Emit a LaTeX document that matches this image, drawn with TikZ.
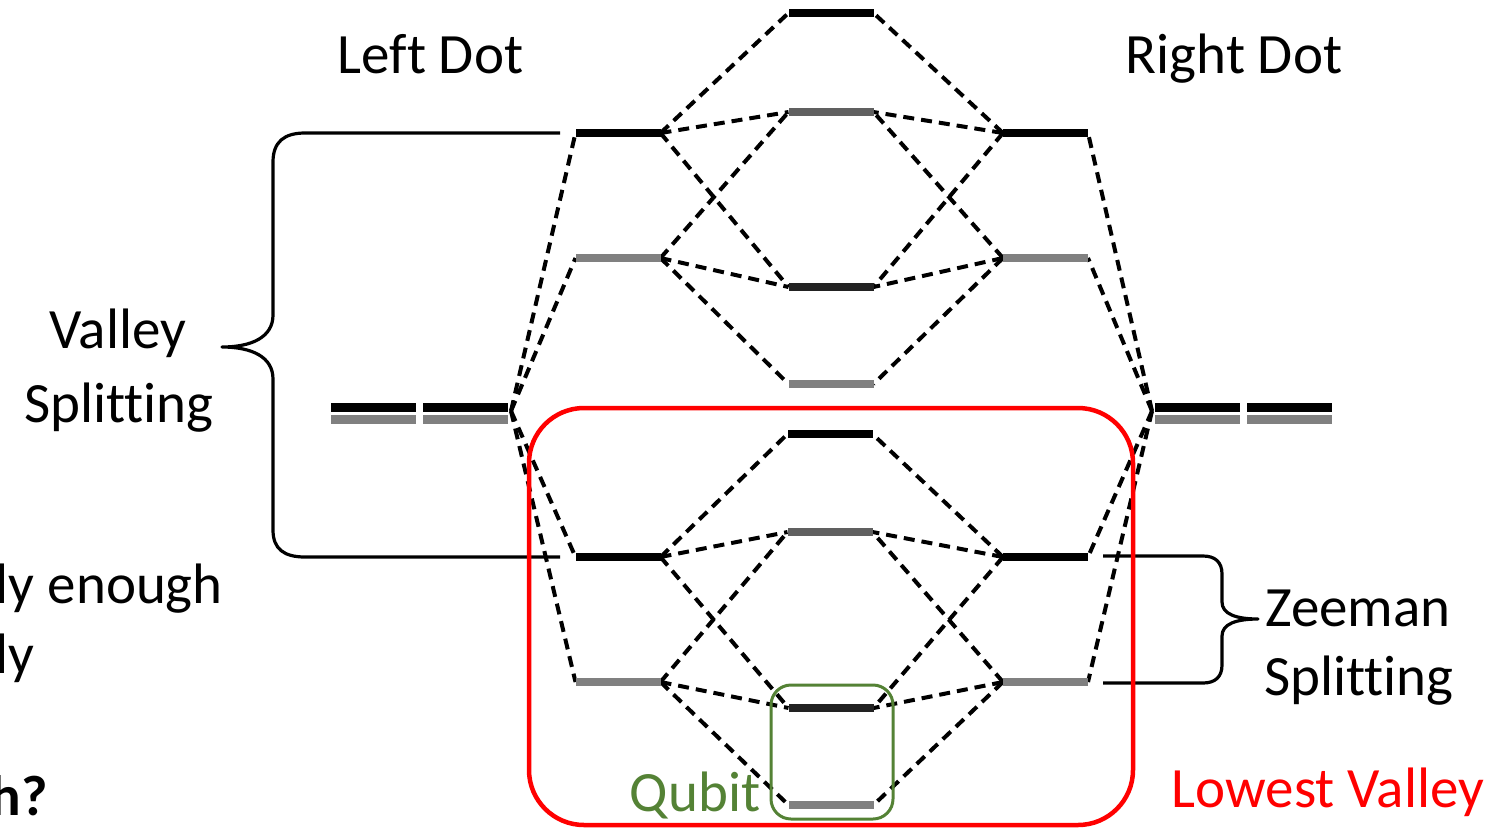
\documentclass[tikz,border=0pt]{standalone}
\usepackage{fontspec}
\setmainfont{Carlito}[Ligatures=NoCommon]
\usetikzlibrary{backgrounds}
\definecolor{qgreen}{RGB}{84,130,53}
\definecolor{lgray}{RGB}{128,128,128}
\definecolor{mgray}{RGB}{96,96,96}
\definecolor{dblack}{RGB}{34,34,34}
\begin{document}
\begin{tikzpicture}[x=1pt,y=-1pt,
  lev/.style={minimum width=85pt, minimum height=7.5pt, inner sep=0pt, outer sep=0pt},
  blk/.style={lev, fill=black},
  gry/.style={lev, fill=lgray},
  mgr/.style={lev, fill=mgray},
  dbk/.style={lev, fill=dblack},
  wide/.style={minimum height=8.5pt},
  conn/.style={line width=4pt, dash pattern=on 11pt off 7pt},
  bracepath/.style={line width=3.2pt, line join=round},
  lbl/.style={font=\fontsize{57}{68}\selectfont, inner sep=0pt, anchor=base}]
\useasboundingbox (0,0) rectangle (1493,828);
\clip (0,0) rectangle (1493,828);
% levels
\node[blk] (L1) at (618,133) {};
\node[gry] (L2) at (618,258) {};
\node[blk] (L3) at (618,557) {};
\node[gry] (L4) at (618,682) {};
\node[blk] (R1) at (1045.5,133) {};
\node[gry] (R2) at (1045.5,258) {};
\node[blk] (R3) at (1045.5,557) {};
\node[gry] (R4) at (1045.5,682) {};
\node[blk] (C1) at (831,13) {};
\node[mgr] (C2) at (831,112) {};
\node[dbk] (C3) at (831,287) {};
\node[gry] (C4) at (831,384) {};
\node[blk] (C5) at (830,434) {};
\node[mgr] (C6) at (830,532) {};
\node[dbk] (C7) at (831,708) {};
\node[gry] (C8) at (831,805) {};
% far left / far right
\node[blk,wide] (FLa) at (373.5,407.5) {};
\node[gry,wide] (FLb) at (373.5,419.5) {};
\node[blk,wide] (FLc) at (465.5,407.5) {};
\node[gry,wide] (FLd) at (465.5,419.5) {};
\node[blk,wide] (FRa) at (1197.5,407.5) {};
\node[gry,wide] (FRb) at (1197.5,419.5) {};
\node[blk,wide] (FRc) at (1289,407.5) {};
\node[gry,wide] (FRd) at (1289,419.5) {};
\coordinate (FLj) at (511,411);
\coordinate (FRj) at (1152,411);
% connectors
\begin{pgfonlayer}{background}
\foreach \a/\b in {L1/C1,L1/C2,L1/C3,L2/C2,L2/C3,L2/C4,L3/C5,L3/C6,L3/C7,L4/C6,L4/C7,L4/C8}
  \draw[conn] (\a.east) -- (\b.west);
\foreach \a/\b in {R1/C1,R1/C2,R1/C3,R2/C2,R2/C3,R2/C4,R3/C5,R3/C6,R3/C7,R4/C6,R4/C7,R4/C8}
  \draw[conn] (\a.west) -- (\b.east);
\foreach \a in {L1,L2,L3,L4}
  \draw[conn] (FLj) -- (\a.west);
\foreach \a in {R1,R2,R3,R4}
  \draw[conn] (FRj) -- (\a.east);
\end{pgfonlayer}
% braces
\coordinate (VBt) at (560,133);
\coordinate (VBb) at (560,557);
\draw[bracepath] (VBt) -- (305,133) .. controls (284,133) and (273,142) .. (273,162) -- (273,315)
  .. controls (273,337) and (252,347) .. (222,347)
  .. controls (252,347) and (273,357) .. (273,379) -- (273,530)
  .. controls (273,549) and (284,557) .. (305,557) -- (VBb);
\coordinate (ZBt) at (1103,556);
\coordinate (ZBb) at (1103,683);
\draw[bracepath] (ZBt) -- (1203,556) .. controls (1215,556) and (1222,562) .. (1222,574) -- (1222,602)
  .. controls (1222,614) and (1236,619) .. (1258,619)
  .. controls (1236,619) and (1222,624) .. (1222,636) -- (1222,665)
  .. controls (1222,677) and (1215,683) .. (1203,683) -- (ZBb);
% boxes
\draw[red, line width=4.5pt, rounded corners=55pt] (529,408) rectangle (1133,825);
\draw[qgreen, line width=3pt, rounded corners=20pt] (771,685) rectangle (893,819);
% texts
\node[lbl] (tLD) at (430.5,73) {Left Dot};
\node[lbl] (tRD) at (1234,73) {Right Dot};
\node[lbl] (tV1) at (118,348) {Valley};
\node[lbl] (tV2) at (119,422) {Splitting};
\node[lbl] (tZ1) at (1358,626) {Zeeman};
\node[lbl] (tZ2) at (1359,695) {Splitting};
\node[lbl, text=qgreen] (tQ) at (695,811) {Qubit};
\node[lbl, text=red] (tLV) at (1328,807) {Lowest Valley};
\node[lbl, anchor=base east] (tE1) at (223,603) {ly enough};
\node[lbl, anchor=base east] (tE2) at (35,673) {ly};
\node[lbl, anchor=base east, font=\fontsize{57}{68}\selectfont\bfseries] (tE3) at (48,815) {h?};
\end{tikzpicture}
\end{document}
